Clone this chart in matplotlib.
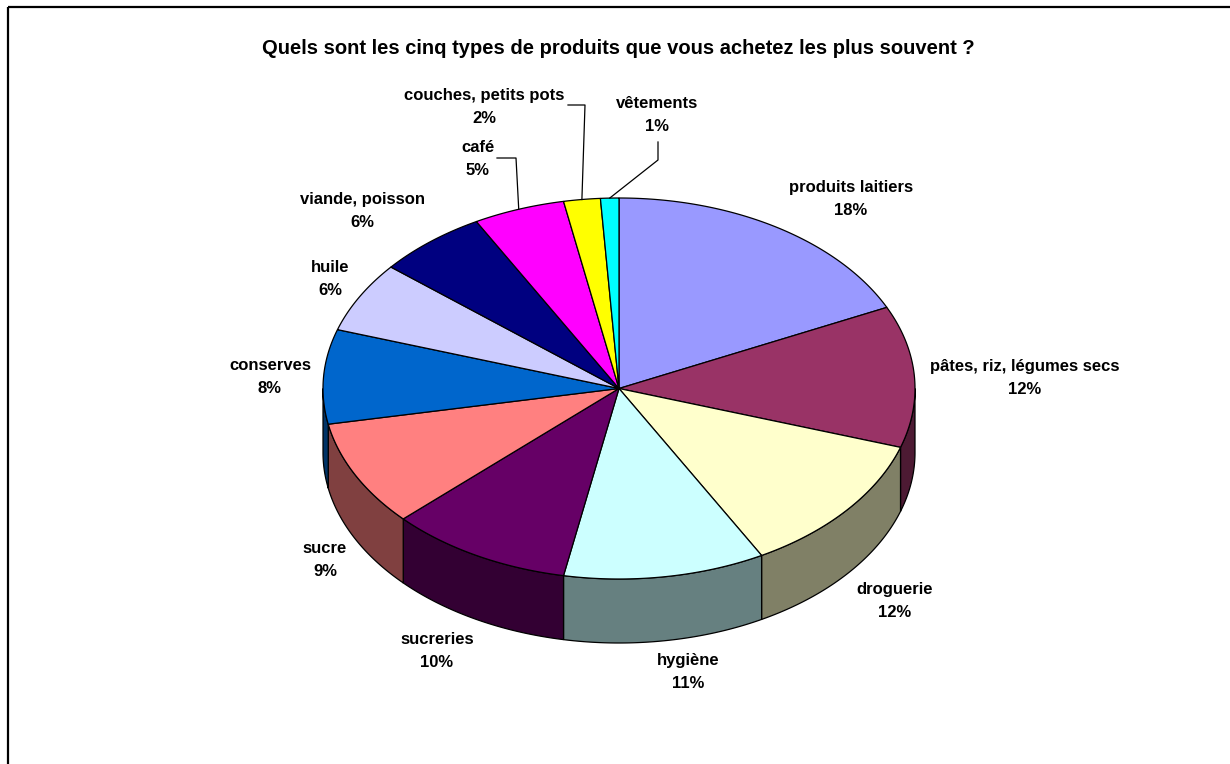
import numpy as np
import matplotlib.pyplot as plt
from matplotlib.patches import Polygon, Rectangle

plt.rcParams['font.family'] = ['Liberation Sans', 'DejaVu Sans']

title = "Quels sont les cinq types de produits que vous achetez les plus souvent ?"
labels = ["produits laitiers", "pâtes, riz, légumes secs", "droguerie", "hygiène",
          "sucreries", "sucre", "conserves", "huile", "viande, poisson", "café",
          "couches, petits pots", "vêtements"]
shares = [18, 12, 12, 11, 10, 9, 8, 6, 6, 5, 2, 1]
colors = ["#9999FF", "#993366", "#FFFFCC", "#CCFFFF", "#660066", "#FF8080",
          "#0066CC", "#CCCCFF", "#000080", "#FF00FF", "#FFFF00", "#00FFFF"]

# label centres (pixels) and elbows for the small slices
label_pos = [(851, 199), (1025, 378), (895, 601), (688, 672), (437, 651), (325, 560),
             (270, 377), (330, 279), (362, 211), (478, 159), (484, 107), (657, 115)]
leaders = {9: [(497, 158), (516, 158)], 10: [(568, 105), (585, 105)],
           11: [(658, 142), (658, 160)]}

cx, cy, rx, ry, depth = 619, 388.5, 296, 190.5, 64

fig = plt.figure(figsize=(12.3, 7.64), dpi=100)
ax = fig.add_axes([0, 0, 1, 1])
ax.set_xlim(0, 1230)
ax.set_ylim(764, 0)
ax.axis('off')


def rim(theta, dz=0.0):
    t = np.radians(theta)
    return np.column_stack([cx + rx * np.cos(t), cy - ry * np.sin(t) + dz])


def darker(c):
    r, g, b = plt.matplotlib.colors.to_rgb(c)
    return (r * 0.5, g * 0.5, b * 0.5)


total = sum(shares)
starts = 90 - 360 * np.cumsum([0] + shares[:-1]) / total
ends = starts - 360 * np.array(shares) / total

# front walls
for a0, a1, col in zip(starts, ends, colors):
    lo, hi = max(a1, -180), min(a0, 0)
    if hi <= lo:
        continue
    th = np.linspace(hi, lo, 80)
    pts = np.vstack([rim(th), rim(th[::-1], depth)])
    ax.add_patch(Polygon(pts, closed=True, facecolor=darker(col),
                         edgecolor='black', linewidth=0.9, zorder=2))

# top faces
for a0, a1, col in zip(starts, ends, colors):
    th = np.linspace(a0, a1, 120)
    pts = np.vstack([[cx, cy], rim(th)])
    ax.add_patch(Polygon(pts, closed=True, facecolor=col,
                         edgecolor='black', linewidth=0.9, zorder=3))

for i, (name, val) in enumerate(zip(labels, shares)):
    x, y = label_pos[i]
    ax.text(x, y, f"{name}\n{val}%", ha='center', va='center', fontsize=12,
            fontweight='bold', linespacing=1.65, zorder=5)
    if i in leaders:
        mid = (starts[i] + ends[i]) / 2
        path = leaders[i] + [tuple(rim(np.array([mid]))[0])]
        xs, ys = zip(*path)
        ax.plot(xs, ys, color='black', linewidth=0.9, zorder=4)

ax.text(618, 48, title, ha='center', va='center', fontsize=14.5, fontweight='bold')

ax.add_patch(Rectangle((8, 7), 1300, 900, fill=False, edgecolor='black',
                       linewidth=1.6, zorder=6))

fig.savefig("out.png", dpi=100)
